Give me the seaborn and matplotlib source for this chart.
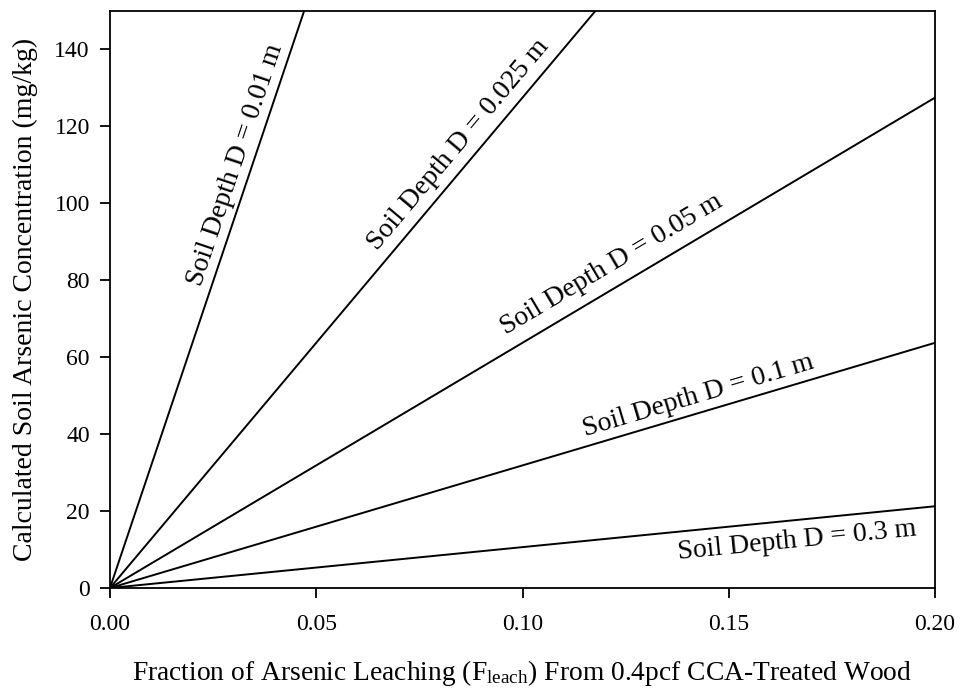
import matplotlib.pyplot as plt
import numpy as np
import pandas as pd
import seaborn as sns

# Soil depths (m) and calculated concentration (mg/kg) at the ends of the F_leach range
depths = [0.01, 0.025, 0.05, 0.1, 0.3]
f_leach = [0.0, 0.2]
conc_at_0 = [0.0, 0.0, 0.0, 0.0, 0.0]
conc_at_02 = [637.5, 255.0, 127.5, 63.75, 21.25]

# label centres (data coords)
label_x = [0.0305, 0.0845, 0.1215, 0.1425, 0.1665]
label_y = [110.0, 115.2, 84.0, 50.0, 12.3]

rows = []
for d, c0, c1 in zip(depths, conc_at_0, conc_at_02):
    rows.append({"F": f_leach[0], "C": c0, "D": d})
    rows.append({"F": f_leach[1], "C": c1, "D": d})
df = pd.DataFrame(rows)

sns.set_style("ticks")
plt.rcParams["font.family"] = ["Liberation Serif", "DejaVu Serif"]
plt.rcParams["mathtext.fontset"] = "custom"
plt.rcParams["mathtext.rm"] = "Liberation Serif"
plt.rcParams["mathtext.it"] = "Liberation Serif:italic"
for k in ["text.color", "axes.labelcolor", "xtick.color", "ytick.color", "axes.edgecolor"]:
    plt.rcParams[k] = "black"

fig, ax = plt.subplots(figsize=(9.68, 6.89), dpi=100)
fig.subplots_adjust(left=0.1136, right=0.966, top=0.984, bottom=0.1466)

sns.lineplot(data=df, x="F", y="C", hue="D", palette=["black"] * len(depths),
             legend=False, linewidth=1.4, ax=ax)

ax.set_xlim(0, 0.2)
ax.set_ylim(0, 150)
ax.set_xticks([0.0, 0.05, 0.10, 0.15, 0.20])
ax.set_xticklabels(["0.00", "0.05", "0.10", "0.15", "0.20"])
ax.set_yticks(range(0, 141, 20))
ax.tick_params(direction="out", length=7, width=1.3, labelsize=17)
ax.tick_params(axis="y", pad=7.5)
ax.tick_params(axis="x", pad=12)
for sp in ax.spines.values():
    sp.set_linewidth(1.3)
    sp.set_visible(True)

ax.set_xlabel("Fraction of Arsenic Leaching (F$_{\\mathrm{leach}}$) From 0.4pcf CCA-Treated Wood",
              fontsize=19.8, labelpad=16)
ax.set_ylabel("Calculated Soil Arsenic Concentration (mg/kg)", fontsize=20, labelpad=12)

for d, c1, lx, ly in zip(depths, conc_at_02, label_x, label_y):
    slope = c1 / f_leach[1]
    ang = np.degrees(np.arctan(slope))
    ax.text(lx, ly, f"Soil Depth D = {d:g} m", fontsize=20, rotation=ang,
            rotation_mode="anchor", transform_rotates_text=True,
            ha="center", va="center")

fig.savefig("out.png", dpi=100)
